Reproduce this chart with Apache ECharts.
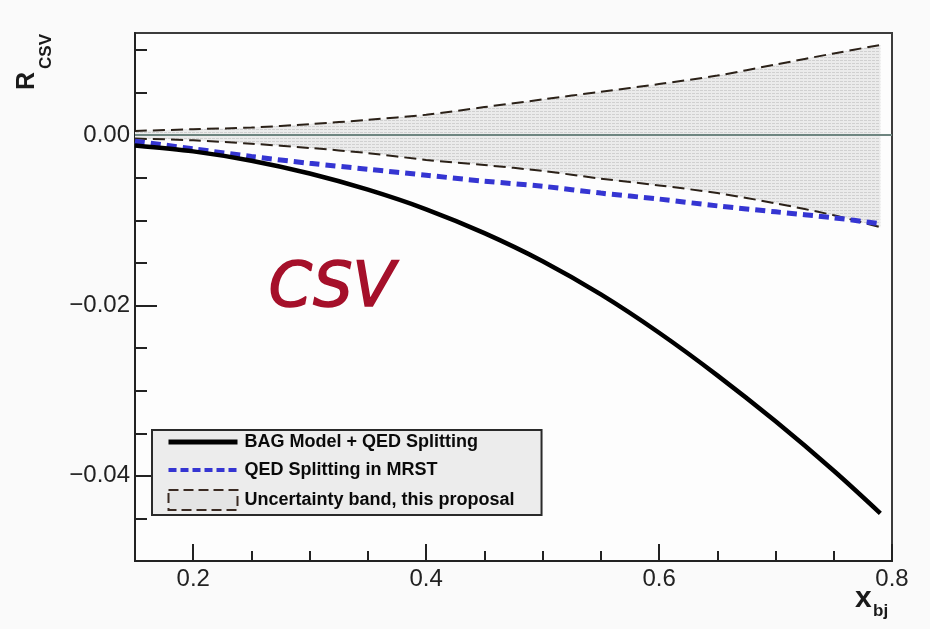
<!DOCTYPE html>
<html>
<head>
<meta charset="utf-8">
<script src="https://cdn.jsdelivr.net/npm/echarts@6/dist/echarts.min.js"></script>
<style>
html,body{margin:0;padding:0;background:#fafafa;}
#c{width:930px;height:629px;}
</style>
</head>
<body>
<div id="c"></div>
<script>
// ---- data ----
const xs        = [0.15, 0.20, 0.25, 0.30, 0.35, 0.40, 0.45, 0.50, 0.55, 0.60, 0.65, 0.70, 0.75, 0.79];
const bagQed    = [-0.0012, -0.0019, -0.0030, -0.0045, -0.0064, -0.0087, -0.0115, -0.0148, -0.0187, -0.0232, -0.0282, -0.0336, -0.0394, -0.0444];
const qedMrst   = [-0.0007, -0.0016, -0.0025, -0.0033, -0.0040, -0.0047, -0.0054, -0.0060, -0.0068, -0.0075, -0.0083, -0.0090, -0.0097, -0.0104];
const bandUpper = [0.0005, 0.0007, 0.0009, 0.0013, 0.0018, 0.0024, 0.0033, 0.0042, 0.0051, 0.0060, 0.0070, 0.0083, 0.0096, 0.0106];
const bandLower = [-0.0004, -0.0006, -0.0010, -0.0015, -0.0021, -0.0029, -0.0035, -0.0042, -0.0051, -0.0059, -0.0068, -0.0080, -0.0094, -0.0108];
const xMajorTicks = [0.2, 0.4, 0.6, 0.8];
const xMinorTicks = [0.25, 0.3, 0.35, 0.45, 0.5, 0.55, 0.65, 0.7, 0.75];
const yMajorTicks = [-0.04, -0.02, 0.0];
const yMinorTicks = [-0.045, -0.035, -0.03, -0.025, -0.015, -0.01, -0.005, 0.005, 0.01];
const names = ['BAG Model + QED Splitting', 'QED Splitting in MRST', 'Uncertainty band, this proposal'];

const pair = (a) => xs.map((x, i) => [x, a[i]]);

// hatch pattern for the band
const pat = document.createElement('canvas');
pat.width = 4; pat.height = 3;
const g = pat.getContext('2d');
g.fillStyle = '#ebebeb'; g.fillRect(0, 0, 4, 3);
g.fillStyle = '#d0d0d0'; g.fillRect(0, 0, 3, 1);

const font = 'Liberation Sans, Arial, Helvetica, sans-serif';
const chart = echarts.init(document.getElementById('c'));

chart.setOption({
  backgroundColor: '#fafafa',
  animation: false,
  grid: { left: 135, right: 38, top: 33, bottom: 68, show: true, backgroundColor: '#fdfdfd', borderColor: '#3c3c3c', borderWidth: 2 },
  xAxis: [
    { type: 'value', min: 0.15, max: 0.8, position: 'bottom',
      axisLine: { show: true, onZero: false, lineStyle: { color: '#222', width: 2 } },
      splitLine: { show: false },
      axisTick: { show: true, inside: true, length: 10, customValues: xMinorTicks, lineStyle: { color: '#222', width: 2 } },
      axisLabel: { show: true, customValues: xMajorTicks, margin: 6, color: '#222', fontSize: 24, fontFamily: font, formatter: v => v.toFixed(1) } },
    { type: 'value', min: 0.15, max: 0.8, position: 'bottom',
      axisLine: { show: false, onZero: false }, splitLine: { show: false }, axisLabel: { show: false },
      axisTick: { show: true, inside: true, length: 17, customValues: xMajorTicks, lineStyle: { color: '#222', width: 2 } } }
  ],
  yAxis: [
    { type: 'value', min: -0.05, max: 0.012, position: 'left',
      axisLine: { show: true, onZero: false, lineStyle: { color: '#222', width: 2 } },
      splitLine: { show: false },
      axisTick: { show: true, inside: true, length: 12, customValues: yMinorTicks, lineStyle: { color: '#222', width: 2 } },
      axisLabel: { show: true, customValues: yMajorTicks, margin: 5, color: '#222', fontSize: 24, fontFamily: font,
        formatter: v => (Math.abs(v) < 1e-9 ? '0.00' : v.toFixed(2).replace('-', '\u2212')) } },
    { type: 'value', min: -0.05, max: 0.012, position: 'left',
      axisLine: { show: false, onZero: false }, splitLine: { show: false }, axisLabel: { show: false },
      axisTick: { show: true, inside: true, length: 22, customValues: yMajorTicks, lineStyle: { color: '#222', width: 2 } } }
  ],
  legend: {
    orient: 'vertical', left: 152, top: 430,
    padding: [3, 27, 4, 14], itemGap: 10, itemWidth: 69, itemHeight: 20,
    backgroundColor: '#ececec', borderColor: '#2a2a2a', borderWidth: 2,
    textStyle: { fontFamily: font, fontWeight: 'bold', fontSize: 18, color: '#0a0a0a', padding: [0, 0, 0, 2] },
    selectedMode: false,
    itemStyle: { opacity: 0 },
    data: [
      { name: names[0], lineStyle: { color: '#000', width: 5, type: 'solid' } },
      { name: names[1], lineStyle: { color: '#3535d2', width: 4, type: [8, 4] } },
      { name: names[2], icon: 'rect', itemStyle: { opacity: 1, color: '#e4e4e4', borderColor: '#3a2a22', borderWidth: 2, borderType: [10, 5] } }
    ]
  },
  graphic: [
    { type: 'text', left: 15, top: 72, rotation: Math.PI / 2, style: { text: 'R', font: 'bold 25px ' + font, fill: '#1a1a1a' } },
    { type: 'text', left: 38, top: 34, rotation: Math.PI / 2, style: { text: 'CSV', font: 'bold 17px ' + font, fill: '#1a1a1a' } },
    { type: 'text', left: 855, top: 584, style: { text: 'x', font: 'bold 30px ' + font, fill: '#1a1a1a' } },
    { type: 'text', left: 873, top: 603, style: { text: 'bj', font: 'bold 17px ' + font, fill: '#1a1a1a' } },
    { type: 'text', left: 268, top: 258, style: { text: 'CSV', font: 'italic 62px "DejaVu Sans", sans-serif', fill: '#a5102a', stroke: '#a5102a', lineWidth: 1.6 } }
  ],
  series: [
    { name: names[2], type: 'line', data: pair(bandUpper), symbol: 'none', smooth: 0.3, z: 2,
      lineStyle: { color: '#2b2118', width: 2, type: [12, 6] },
      areaStyle: { color: { image: pat, repeat: 'repeat' }, origin: 0, opacity: 1 },
      markLine: { silent: true, symbol: 'none', label: { show: false }, lineStyle: { color: '#6e8580', width: 2, type: 'solid' }, data: [{ yAxis: 0 }] } },
    { name: names[2], type: 'line', data: pair(bandLower), symbol: 'none', smooth: 0.3, z: 2,
      lineStyle: { color: '#2b2118', width: 2, type: [12, 6] },
      areaStyle: { color: { image: pat, repeat: 'repeat' }, origin: 0, opacity: 1 } },
    { name: names[1], type: 'line', data: pair(qedMrst), symbol: 'none', smooth: 0.3, z: 4,
      lineStyle: { color: '#3535d2', width: 5, type: [10, 6] } },
    { name: names[0], type: 'line', data: pair(bagQed), symbol: 'none', smooth: 0.3, z: 5,
      lineStyle: { color: '#000', width: 4.5 } }
  ]
});
</script>
</body>
</html>
